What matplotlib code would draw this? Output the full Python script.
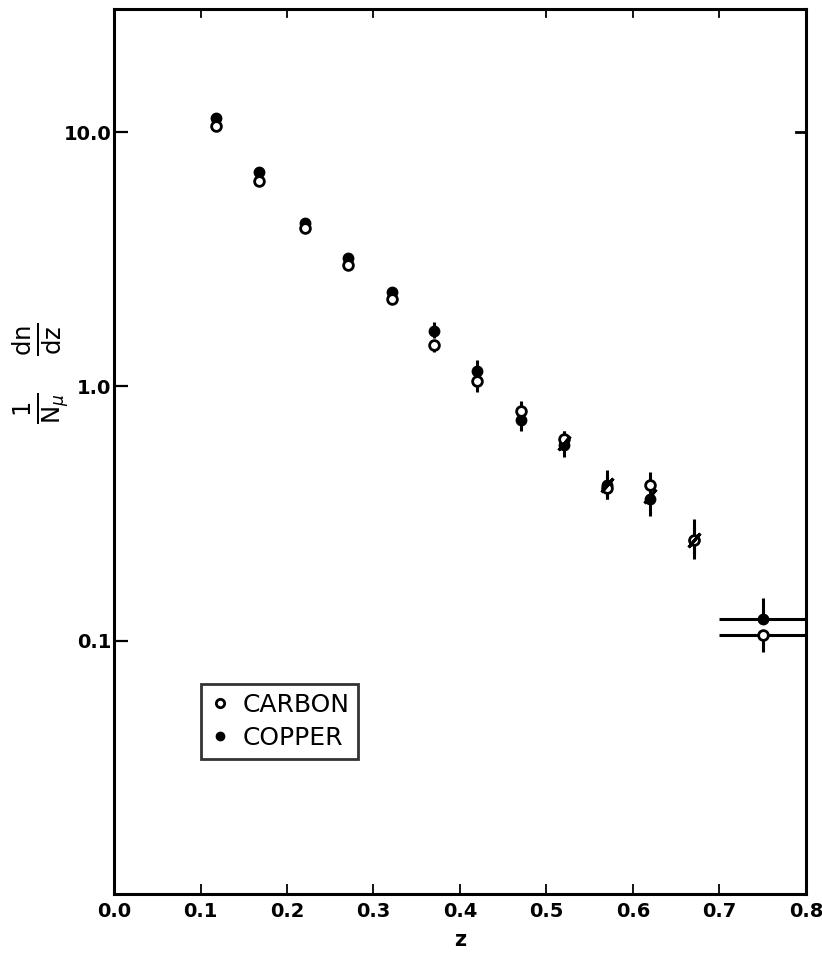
import matplotlib.pyplot as plt
import numpy as np
from matplotlib.lines import Line2D
from matplotlib.ticker import FixedLocator, NullLocator

# fractional energy z of the bins
z = [0.118, 0.168, 0.221, 0.271, 0.321, 0.37, 0.42, 0.47, 0.52, 0.57, 0.62, 0.67, 0.75]

# 1/N_mu dn/dz for the two targets
carbon = [10.6, 6.4, 4.2, 3.0, 2.2, 1.45, 1.05, 0.80, 0.62, 0.40, 0.41, 0.25, 0.105]
copper = [11.4, 7.0, 4.4, 3.2, 2.35, 1.65, 1.15, 0.74, 0.59, 0.41, 0.36, 0.25, 0.122]

# vertical errors (lower, upper)
carbon_lo = [0, 0, 0, 0, 0, 0.08, 0.10, 0.06, 0.05, 0.04, 0.05, 0.03, 0.015]
carbon_hi = [0, 0, 0, 0, 0, 0.05, 0.06, 0.08, 0.05, 0.05, 0.05, 0.03, 0.0]
copper_lo = [0, 0, 0, 0, 0, 0.10, 0.10, 0.07, 0.06, 0.05, 0.05, 0.04, 0.0]
copper_hi = [0, 0, 0, 0, 0, 0.15, 0.12, 0.06, 0.08, 0.06, 0.05, 0.05, 0.025]

# last bin is wide: 0.7 - 0.8
z_halfwidth = [0, 0, 0, 0, 0, 0, 0, 0, 0, 0, 0, 0, 0.05]

# slashed points
slash_z = [0.52, 0.57, 0.62, 0.67]
slash_val = [0.60, 0.41, 0.37, 0.25]

x_ticks = [0.0, 0.1, 0.2, 0.3, 0.4, 0.5, 0.6, 0.7, 0.8]
x_labels = ["0.0", "0.1", "0.2", "0.3", "0.4", "0.5", "0.6", "0.7", "0.8"]
top_ticks = [0.1, 0.2, 0.3, 0.5, 0.6, 0.7]
y_ticks = [0.1, 1.0, 10.0]
y_labels = ["0.1", "1.0", "10.0"]
y_min, y_max = 0.0101, 30.5

fig = plt.figure(figsize=(8.22, 9.57), dpi=100)
ax = fig.add_axes([0.1387, 0.0658, 0.8418, 0.9248])

ax.set_yscale("log")
ax.set_xlim(0.0, 0.8)
ax.set_ylim(y_min, y_max)

ax.errorbar(z, copper, yerr=[copper_lo, copper_hi], xerr=z_halfwidth, fmt="o",
            color="black", mfc="black", mec="black", ms=7, mew=1.5,
            elinewidth=2.2, capsize=0, zorder=3)
ax.errorbar(z, carbon, yerr=[carbon_lo, carbon_hi], xerr=z_halfwidth, fmt="o",
            color="black", mfc="white", mec="black", ms=7, mew=2.0,
            elinewidth=2.2, capsize=0, zorder=4)
ax.plot(slash_z, slash_val, linestyle="none", marker=(2, 2, -40), ms=13,
        mew=2.2, color="black", zorder=5)

for s in ax.spines.values():
    s.set_linewidth(2.2)

ax.xaxis.set_major_locator(FixedLocator(x_ticks))
ax.set_xticklabels(x_labels, fontweight="bold")
ax.yaxis.set_major_locator(FixedLocator(y_ticks))
ax.yaxis.set_minor_locator(NullLocator())
ax.set_yticklabels(y_labels, fontweight="bold")
ax.tick_params(axis="x", direction="in", length=7, width=1.3, pad=6,
               labelsize=14)
ax.tick_params(axis="y", direction="in", length=10, width=1.6, pad=2,
               labelsize=14)

# small ticks on the top edge and one on the right
for t in top_ticks:
    ax.plot([t, t], [y_max, y_max / 10 ** 0.03], color="black", lw=1.3,
            clip_on=False)
ax.plot([0.8, 0.8 - 0.012], [10.0, 10.0], color="black", lw=2.0, clip_on=False)

ax.set_xlabel("z", fontsize=15, fontweight="bold", labelpad=6)
ax.set_ylabel(r"$\frac{1}{\mathrm{N}_\mu}\ \ \ \frac{\mathrm{dn}}{\mathrm{dz}}$",
              fontsize=25)
ax.yaxis.set_label_coords(-0.06, 0.588)

handles = [Line2D([], [], marker="o", ls="none", mfc="white", mec="black",
                  ms=6, mew=2.0),
           Line2D([], [], marker="o", ls="none", mfc="black", mec="black",
                  ms=6)]
leg = ax.legend(handles, ["CARBON", "COPPER"], loc="lower left",
                bbox_to_anchor=(0.126, 0.153), borderaxespad=0,
                fontsize=18, frameon=True, fancybox=False, handlelength=0.8,
                handletextpad=0.5, borderpad=0.35, labelspacing=0.35)
leg.get_frame().set_edgecolor("black")
leg.get_frame().set_linewidth(2.0)

fig.savefig("out.png", dpi=100)
